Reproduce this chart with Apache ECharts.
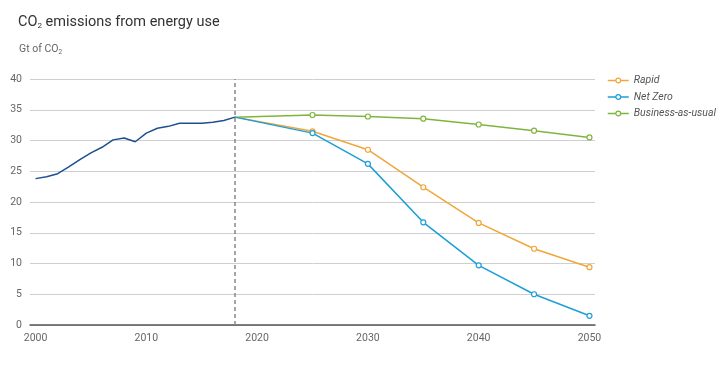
<!DOCTYPE html>
<html><head><meta charset="utf-8">
<script src="https://cdn.jsdelivr.net/npm/echarts@6/dist/echarts.min.js"></script>
<style>html,body{margin:0;padding:0;background:#fff}#c{width:722px;height:366px}</style>
</head><body><div id="c"></div>
<script>
const histYears = [2000,2001,2002,2003,2004,2005,2006,2007,2008,2009,2010,2011,2012,2013,2014,2015,2016,2017,2018];
const histValues = [23.8,24.1,24.6,25.7,26.9,28.0,28.9,30.1,30.4,29.8,31.2,32.0,32.3,32.8,32.8,32.8,32.95,33.25,33.8];
const scenYears = [2018,2025,2030,2035,2040,2045,2050];
const rapid = [33.8,31.5,28.5,22.4,16.6,12.4,9.4];
const netZero = [33.8,31.2,26.2,16.7,9.7,5.0,1.5];
const bau = [33.8,34.15,33.9,33.55,32.6,31.6,30.5];
const xTicks = [2000,2010,2020,2030,2040,2050];
const dividerYear = 2018;

const pair = (xs, ys) => xs.map((x,i)=> i===0 ? {value:[x,ys[i]], symbol:'none'} : [x,ys[i]]);
const scen = (name, color, vals) => ({
  name, type:'line', data: pair(scenYears, vals), symbol:'circle', symbolSize:5,
  itemStyle:{color:'#fff', borderColor:color, borderWidth:1.2},
  lineStyle:{color, width:1.5}, z:3
});

const chart = echarts.init(document.getElementById('c'), null, {renderer:'canvas'});
chart.setOption({
  animation:false,
  textStyle:{fontFamily:'Roboto, "Noto Sans", sans-serif'},
  title:[{
    text:'CO{s|2} emissions from energy use', left:13, top:9,
    textStyle:{fontSize:14.5, fontWeight:'normal', color:'#333',
      rich:{s:{fontSize:8, color:'#333', verticalAlign:'bottom', padding:[8,0,0,0]}}}
  },{
    text:'Gt of CO{s|2}', left:14, top:38,
    textStyle:{fontSize:10.5, fontWeight:'normal', color:'#666',
      rich:{s:{fontSize:6.5, color:'#666', padding:[6,0,0,0]}}}
  }],
  legend:{
    left:602, top:69, orient:'vertical', itemGap:3.5, itemWidth:21, itemHeight:6,
    textStyle:{fontStyle:'italic', color:'#555', fontSize:10.5, lineHeight:13},
    itemStyle:{color:'#fff', borderWidth:1.2},
    lineStyle:{width:1.5},
    data:['Rapid','Net Zero','Business-as-usual']
  },
  grid:{left:30, right:127, top:79, bottom:41, containLabel:false},
  xAxis:{
    type:'value', min:1999.5, max:2050.5,
    axisLine:{show:true, lineStyle:{color:'#555', width:1.5}},
    axisTick:{show:false},
    splitLine:{show:false},
    axisLabel:{customValues:xTicks, color:'#666', fontSize:10.5, margin:8, formatter:v=>String(v)}
  },
  yAxis:{
    type:'value', min:0, max:40, interval:5,
    axisLine:{show:false}, axisTick:{show:false},
    splitLine:{lineStyle:{color:'#cfcfcf', width:1}},
    axisLabel:{color:'#666', fontSize:10.5, margin:8}
  },
  series:[
    {name:'History', type:'line', data: histYears.map((y,i)=>[y,histValues[i]]), symbol:'none',
     lineStyle:{color:'#1f4f8f', width:1.5}, z:4,
     markLine:{silent:true, symbol:'none', label:{show:false},
       lineStyle:{color:'#888', type:[4,3], width:1.5},
       data:[{xAxis:dividerYear}]}},
    scen('Business-as-usual', '#7fb53f', bau),
    scen('Rapid', '#f0a63a', rapid),
    scen('Net Zero', '#1c9fd6', netZero)
  ]
});
</script></body></html>
